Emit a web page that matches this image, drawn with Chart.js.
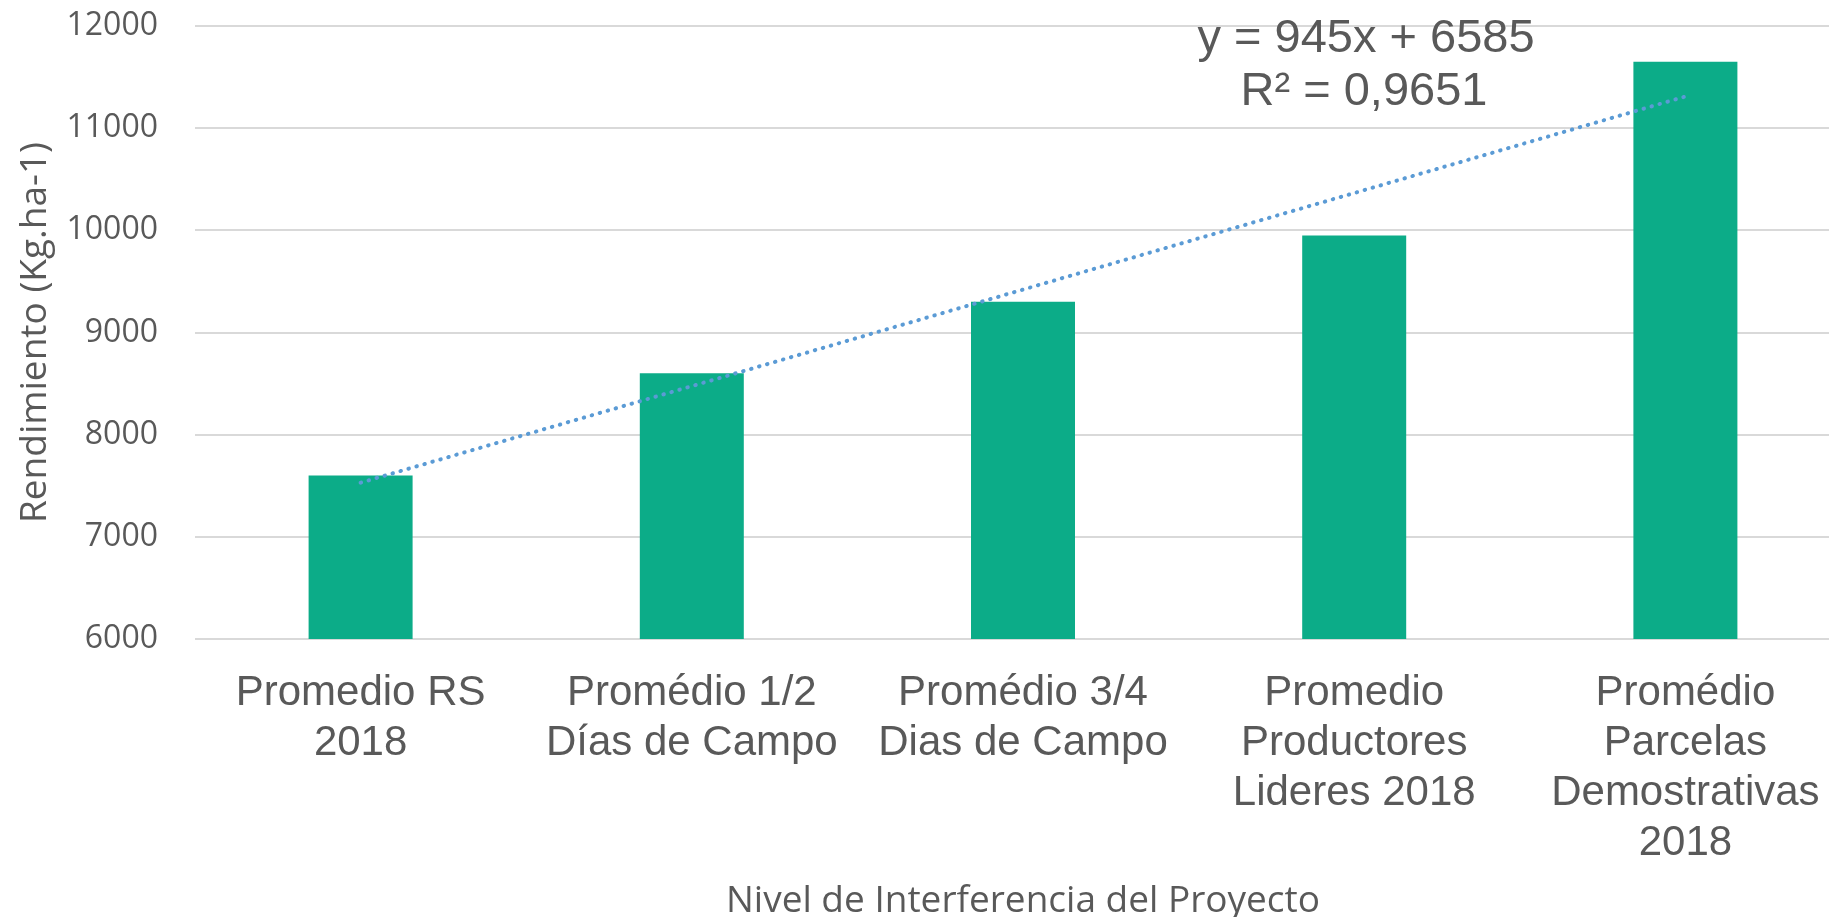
<!DOCTYPE html>
<html>
<head>
<meta charset="utf-8">
<script src="https://cdn.jsdelivr.net/npm/chart.js@4.4.1/dist/chart.umd.min.js"></script>
<style>
  html, body { margin: 0; padding: 0; background: #fff; overflow: hidden; }
  #wrap { position: absolute; left: 0; top: 0; width: 1870px; height: 917px; }
</style>
</head>
<body>
<div id="wrap"><canvas id="barChart"></canvas></div>
<script>
// Data
const categories = [
  ['Promedio RS', '2018'],
  ['Promédio 1/2', 'Días de Campo'],
  ['Promédio 3/4', 'Dias de Campo'],
  ['Promedio', 'Productores', 'Lideres 2018'],
  ['Promédio', 'Parcelas', 'Demostrativas', '2018']
];
const rendimiento = [7600, 8600, 9300, 9950, 11650];
const trendValues = [7530, 8475, 9420, 10365, 11310]; // linear trendline
const yTicks = [6000, 7000, 8000, 9000, 10000, 11000, 12000];
const trendEquation = 'y = 945x + 6585';
const trendR2 = 'R² = 0,9651';

const textColor = '#595959';

// draws the trendline equation label
const equationLabel = {
  id: 'equationLabel',
  afterDatasetsDraw(chart) {
    const ctx = chart.ctx;
    ctx.save();
    ctx.fillStyle = textColor;
    ctx.font = '47px "Liberation Sans", Arial, sans-serif';
    ctx.textAlign = 'center';
    ctx.textBaseline = 'alphabetic';
    ctx.fillText(trendEquation, 1366, 52);
    ctx.fillText(trendR2, 1364, 105);
    ctx.restore();
  }
};

const barCtx = document.getElementById('barChart').getContext('2d');
const barChart = new Chart(barCtx, {
  type: 'bar',
  data: {
    labels: categories,
    datasets: [{
      type: 'line',
      data: trendValues,
      borderColor: '#5B9BD5',
      borderWidth: 4,
      borderDash: [0.5, 7.8],
      borderCapStyle: 'round',
      pointRadius: 0,
      fill: false,
      order: 1
    }, {
      data: rendimiento,
      backgroundColor: '#0cac88',
      borderWidth: 0,
      categoryPercentage: 1,
      barPercentage: 0.314,
      order: 2
    }]
  },
  options: {
    responsive: true,
    maintainAspectRatio: false,
    animation: false,
    layout: { padding: { left: 13, right: 19, top: 0, bottom: 0 } },
    plugins: {
      legend: { display: false },
      tooltip: { enabled: false }
    },
    scales: {
      x: {
        grid: { display: false },
        border: { display: false },
        ticks: {
          color: textColor,
          padding: 21,
          maxRotation: 0,
          autoSkip: false,
          font: { family: '"Liberation Sans", Arial, sans-serif', size: 42, lineHeight: 1.19 }
        },
        title: {
          display: true,
          text: 'Nivel de Interferencia del Proyecto',
          color: textColor,
          font: { family: '"Open Sans", sans-serif', size: 37 },
          padding: { top: 0, bottom: -7 }
        },
        afterFit: function(scale) {
          scale.height = 278;
        }
      },
      y: {
        min: yTicks[0],
        max: yTicks[yTicks.length - 1],
        grid: { color: '#d9d9d9', lineWidth: 2, drawTicks: false },
        border: { display: false },
        ticks: {
          stepSize: yTicks[1] - yTicks[0],
          padding: 37,
          color: textColor,
          font: { family: '"Open Sans", sans-serif', size: 32 },
          callback: function(value) { return String(value); }
        },
        title: {
          display: true,
          text: 'Rendimiento (Kg.ha-1)',
          color: textColor,
          font: { family: '"Open Sans", sans-serif', size: 37 },
          padding: { top: 0, bottom: 0 }
        },
        afterFit: function(scale) {
          scale.width = 182;
          scale.paddingTop = 26;
          scale.paddingBottom = 19;
        }
      }
    }
  },
  plugins: [equationLabel]
});
</script>
</body>
</html>
